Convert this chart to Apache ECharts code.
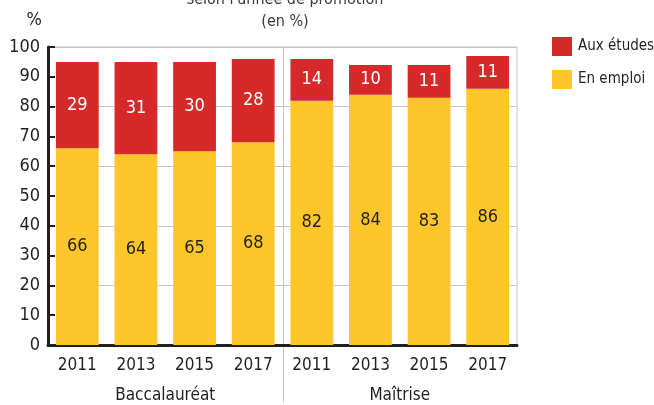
<!DOCTYPE html>
<html>
<head>
<meta charset="utf-8">
<script src="https://cdn.jsdelivr.net/npm/echarts@6/dist/echarts.min.js"></script>
<style>
  html, body { margin: 0; padding: 0; background: #fff; }
  #chart { width: 654px; height: 405px; }
</style>
</head>
<body>
<div id="chart"></div>
<script>
// ===== Data =====
const years = ['2011', '2013', '2015', '2017', '2011', '2013', '2015', '2017']
const groups = ['Baccalauréat', 'Maîtrise']
const enEmploi = [66, 64, 65, 68, 82, 84, 83, 86]
const auxEtudes = [29, 31, 30, 28, 14, 10, 11, 11]

const FONT = "'Liberation Sans Narrow', 'DejaVu Sans Condensed', sans-serif"
const INK = '#231f20'
const RED = '#d62a2a'
const YELLOW = '#fdc62b'
const GRID_GREY = '#c4c4c4'

const chart = echarts.init(document.getElementById('chart'))

chart.setOption({
  animation: false,
  textStyle: { fontFamily: FONT },
  title: {
    text: "selon l'année de promotion\n(en %)",
    left: 280,
    textAlign: 'center',
    top: -16,
    textStyle: { fontFamily: FONT, fontSize: 16, fontWeight: 'normal', color: '#3a3a3a', lineHeight: 22 }
  },
  legend: {
    orient: 'vertical',
    left: 547,
    top: 32,
    itemWidth: 20,
    itemHeight: 19,
    itemGap: 14,
    icon: 'rect',
    data: ['Aux études', 'En emploi'],
    textStyle: { fontFamily: FONT, fontSize: 15, color: INK, padding: [0, 0, 0, 1] }
  },
  grid: {
    left: 48,
    right: 137,
    top: 47,
    bottom: 60,
    show: true,
    borderColor: GRID_GREY,
    borderWidth: 1
  },
  xAxis: [
    {
      type: 'category',
      data: years,
      axisLine: { lineStyle: { color: INK, width: 3 } },
      axisTick: { show: false },
      axisLabel: { fontFamily: FONT, fontSize: 17, color: INK, margin: 12 }
    },
    {
      type: 'category',
      data: groups,
      position: 'bottom',
      axisLine: { show: false },
      axisTick: { show: false },
      axisLabel: { fontFamily: FONT, fontSize: 17, color: INK, margin: 42 }
    }
  ],
  yAxis: [
    {
      type: 'value',
      min: 0,
      max: 100,
      interval: 10,
      name: '%',
      nameLocation: 'end',
      nameGap: 18,
      nameTextStyle: { fontFamily: FONT, fontSize: 18, color: INK, align: 'right', padding: [0, 6, 0, 0] },
      splitLine: { show: false },
      axisLine: { show: true, lineStyle: { color: INK, width: 3 } },
      axisTick: { show: true, inside: true, length: 7, lineStyle: { color: INK, width: 2 } },
      axisLabel: { fontFamily: FONT, fontSize: 18, color: INK, margin: 8 },
      z: 3
    },
    {
      // lignes de repère tous les 20 %
      type: 'value',
      min: 0,
      max: 100,
      interval: 20,
      position: 'left',
      axisLine: { show: false },
      axisTick: { show: false },
      axisLabel: { show: false },
      splitLine: { show: true, lineStyle: { color: GRID_GREY, width: 1 } }
    }
  ],
  series: [
    {
      name: 'En emploi',
      type: 'bar',
      stack: 'total',
      barWidth: '73%',
      itemStyle: { color: YELLOW },
      label: { show: true, position: 'inside', fontFamily: FONT, fontSize: 18, color: INK },
      data: enEmploi
    },
    {
      name: 'Aux études',
      type: 'bar',
      stack: 'total',
      barWidth: '73%',
      itemStyle: { color: RED },
      label: { show: true, position: 'inside', fontFamily: FONT, fontSize: 18, color: '#fff' },
      data: auxEtudes
    }
  ]
})

// séparateur entre les deux groupes
const xa = chart.convertToPixel({ xAxisIndex: 0 }, 3)
const xb = chart.convertToPixel({ xAxisIndex: 0 }, 4)
const yTop = chart.convertToPixel({ yAxisIndex: 0 }, 100)
const xMid = Math.round((xa + xb) / 2) + 0.5
chart.setOption({
  graphic: [{
    type: 'line',
    shape: { x1: xMid, y1: yTop, x2: xMid, y2: 402 },
    style: { stroke: GRID_GREY, lineWidth: 1 },
    z: 0
  }]
})
</script>
</body>
</html>
